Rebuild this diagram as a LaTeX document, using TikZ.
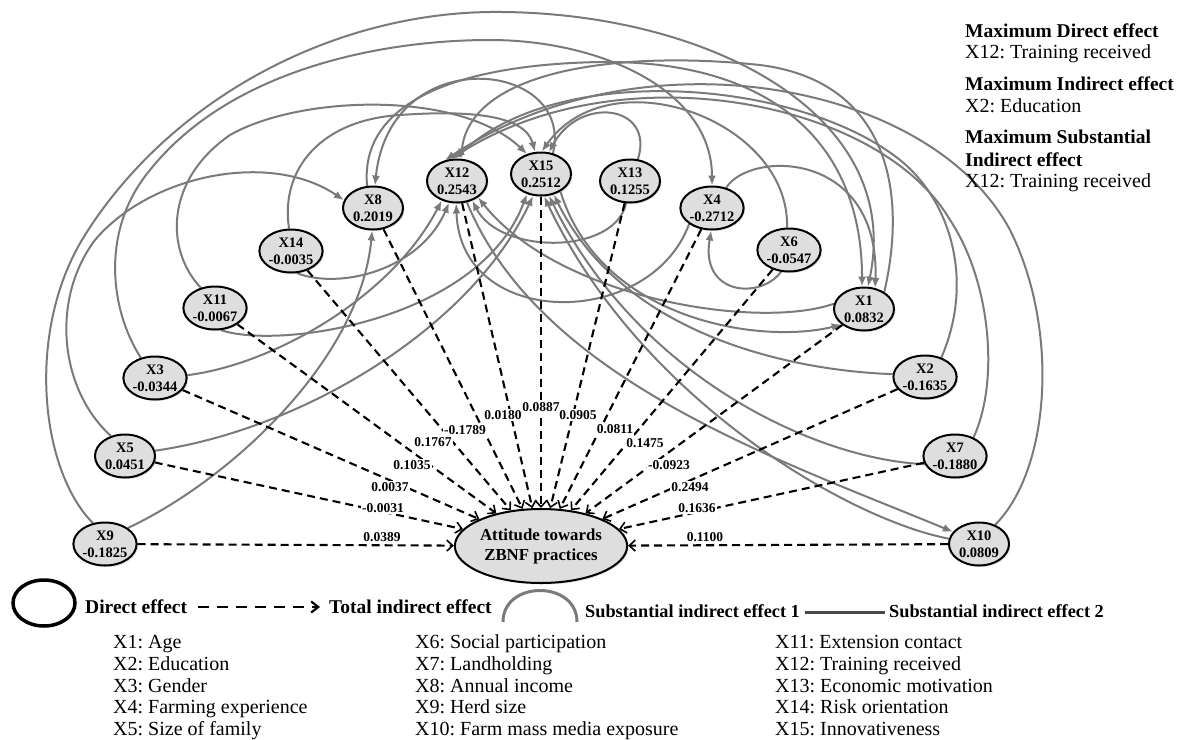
\documentclass[tikz,border=0pt]{standalone}
\usepackage{fontspec}
\setmainfont{Liberation Serif}
\usetikzlibrary{arrows.meta,shapes.geometric,backgrounds,shadows}
\definecolor{arcgray}{RGB}{122,122,122}
\definecolor{nodefill}{RGB}{222,222,222}
\frenchspacing
\begin{document}
\begin{tikzpicture}[x=1pt,y=-1pt,
  var/.style={ellipse, draw=black, line width=2pt, fill=nodefill, minimum width=60pt, minimum height=43pt, inner sep=0pt, align=center, font=\fontsize{14.5}{17}\selectfont\bfseries, drop shadow={opacity=0.25, shadow xshift=1.5pt, shadow yshift=-1.5pt}},
  att/.style={ellipse, draw=black, line width=2pt, fill=nodefill, minimum width=138pt, minimum height=74pt, inner sep=0pt, align=center, font=\fontsize{16.8}{20}\selectfont\bfseries, drop shadow={opacity=0.25, shadow xshift=1.5pt, shadow yshift=-1.5pt}},
  dasharrow/.style={draw=black, line width=2.1pt, dash pattern=on 8pt off 5pt, -{Straight Barb[length=6pt,width=11pt,line width=1.6pt]}},
  sie/.style={draw=arcgray, line width=2pt, -{Latex[length=10pt,width=8pt]}},
  lab/.style={fill=white, inner sep=1pt, font=\fontsize{13.5}{15}\selectfont\bfseries},
  legtxt/.style={anchor=base west, inner sep=0pt, font=\fontsize{20}{22}\selectfont},
  legbold/.style={anchor=base west, inner sep=0pt, font=\fontsize{19.5}{22}\selectfont\bfseries},
  legbolds/.style={anchor=base west, inner sep=0pt, font=\fontsize{18.3}{22}\selectfont\bfseries},
]
\useasboundingbox (0,0) rectangle (1183,739);

% variable nodes
\node[var] (X8)  at (373,208) {X8\\0.2019};
\node[var] (X12) at (457,181) {X12\\0.2543};
\node[var] (X15) at (541,174) {X15\\0.2512};
\node[var] (X13) at (630,181) {X13\\0.1255};
\node[var] (X4)  at (712,208) {X4\\-0.2712};
\node[var] (X14) at (291,251) {X14\\-0.0035};
\node[var] (X6)  at (789,250) {X6\\-0.0547};
\node[var] (X11) at (215,308) {X11\\-0.0067};
\node[var] (X1)  at (864,309) {X1\\0.0832};
\node[var] (X3)  at (155,378) {X3\\-0.0344};
\node[var] (X2)  at (925,377) {X2\\-0.1635};
\node[var] (X5)  at (125,456) {X5\\0.0451};
\node[var] (X7)  at (955,456) {X7\\-0.1880};
\node[var] (X9)  at (105,544) {X9\\-0.1825};
\node[var] (X10) at (979,544) {X10\\0.0809};
\node[att] (Att) at (541,546) {Attitude towards\\ZBNF practices};

\begin{pgfonlayer}{background}
% substantial indirect effects
\draw[sie] (X9.120) .. controls (40,470) and (25,330) .. (85,235) .. controls (170,100) and (330,14) .. (490,12) .. controls (700,10) and (905,110) .. (X1.80);
\draw[sie] (X9.35) .. controls (230,480) and (360,360) .. (X8.268);
\draw[sie] (X5.125) .. controls (60,390) and (50,300) .. (95,240) .. controls (150,175) and (270,150) .. (X8.165);
\draw[sie] (X5.10) .. controls (300,430) and (470,330) .. (X15.250);
\draw[sie] (X3.125) .. controls (110,310) and (100,230) .. (150,170) .. controls (230,70) and (380,40) .. (490,40) .. controls (600,40) and (712,90) .. (X4.90);
\draw[sie] (X3.5) .. controls (270,365) and (390,300) .. (X12.232);
\draw[sie] (X11.125) .. controls (165,250) and (165,180) .. (230,135) .. controls (300,95) and (460,90) .. (X15.125);
\draw[sie] (X11.285) .. controls (280,350) and (480,320) .. (X15.235);
\draw[sie] (X14.95) .. controls (280,170) and (320,120) .. (400,115) .. controls (470,110) and (525,115) .. (X15.105);
\draw[sie] (X14.285) .. controls (340,290) and (420,270) .. (X12.250);
\draw[sie] (X8.105) .. controls (360,110) and (440,65) .. (600,62) .. controls (780,60) and (862,150) .. (X1.95);
\draw[sie] (X15.60) .. controls (575,60) and (390,40) .. (X8.85);
\draw[sie] (X15.318) .. controls (600,320) and (760,345) .. (X1.215);
\draw[sie] (X12.295) .. controls (540,380) and (780,460) .. (X10.155);
\draw[sie] (X13.70) .. controls (655,105) and (580,95) .. (X15.70);
\draw[sie] (X13.260) .. controls (615,255) and (500,255) .. (X12.308);
\draw[sie] (X4.55) .. controls (750,150) and (880,150) .. (X1.62);
\draw[sie] (X4.215) .. controls (650,330) and (460,330) .. (X12.268);
\draw[sie] (X6.95) .. controls (790,120) and (610,55) .. (X15.88);
\draw[sie] (X6.250) .. controls (760,300) and (700,295) .. (X4.268);
\draw[sie] (X1.40) .. controls (910,180) and (880,80) .. (760,65) .. controls (620,50) and (470,70) .. (X12.80);
\draw[sie] (X1.170) .. controls (760,330) and (560,300) .. (X12.322);
\draw[sie] (X2.50) .. controls (975,280) and (950,200) .. (900,160) .. controls (800,80) and (560,60) .. (X12.95);
\draw[sie] (X2.175) .. controls (780,370) and (620,330) .. (X15.302);
\draw[sie] (X7.45) .. controls (1000,380) and (990,280) .. (950,220) .. controls (880,100) and (620,50) .. (X12.105);
\draw[sie] (X7.195) .. controls (820,460) and (640,380) .. (X15.290);
\draw[sie] (X10.50) .. controls (1050,470) and (1060,330) .. (1010,230) .. controls (930,80) and (640,30) .. (X12.120);
\draw[sie] (X10.170) .. controls (850,520) and (640,400) .. (X15.278);
% total indirect effects
\foreach \n in {X9,X5,X3,X11,X14,X8,X12,X15,X13,X4,X6,X1,X2,X7,X10}
  \draw[dasharrow] (\n) -- (Att);
\end{pgfonlayer}

% effect labels
\node[lab] (l9)  at (382,537) {0.0389};
\node[lab] (l5)  at (383,508) {-0.0031};
\node[lab] (l3)  at (390,487) {0.0037};
\node[lab] (l11) at (412,465) {0.1035};
\node[lab] (l14) at (433,442) {0.1767};
\node[lab] (l8)  at (465,430) {-0.1789};
\node[lab] (l12) at (503,415) {0.0180};
\node[lab] (l15) at (541,407) {0.0887};
\node[lab] (l13) at (578,415) {0.0905};
\node[lab] (l4)  at (615,429) {0.0811};
\node[lab] (l6)  at (645,443) {0.1475};
\node[lab] (l1)  at (669,465) {-0.0923};
\node[lab] (l2)  at (690,487) {0.2494};
\node[lab] (l7)  at (697,508) {0.1636};
\node[lab] (l10) at (705,537) {0.1100};

% top-right notes
\node[legbold] (m1)  at (965,37)  {Maximum Direct effect};
\node[legtxt]  (m1v) at (965,58)  {X12: Training received};
\node[legbold] (m2)  at (965,90)  {Maximum Indirect effect};
\node[legtxt]  (m2v) at (965,112) {X2: Education};
\node[legbold] (m3)  at (965,143) {Maximum Substantial};
\node[legbold] (m3b) at (965,166) {Indirect effect};
\node[legtxt]  (m3v) at (965,187) {X12: Training received};

% legend keys
\node[draw=black, line width=3.5pt, ellipse, minimum width=62pt, minimum height=46pt, inner sep=0pt] (legE) at (44,603) {};
\node[legbold] (legD) at (85,613) {Direct effect};
\coordinate (ta) at (198,607);
\coordinate (tb) at (320,607);
\draw[line width=2.2pt, dash pattern=on 11pt off 8pt, -{Straight Barb[length=7pt,width=11pt,line width=2.2pt]}] (ta) -- (tb);
\node[legbold] (legT) at (329,613) {Total indirect effect};
\coordinate (aa) at (503,622);
\coordinate (ab) at (577,622);
\draw[arcgray, line width=3pt] (aa) .. controls (503,580) and (577,580) .. (ab);
\node[legbolds] (legS1) at (585,617) {Substantial indirect effect 1};
\coordinate (la) at (805,612);
\coordinate (lb) at (885,612);
\draw[draw=arcgray!60!black, line width=3pt] (la) -- (lb);
\node[legbolds] (legS2) at (889,617) {Substantial indirect effect 2};

% legend list
\node[legtxt] (k1)  at (113,648)   {X1: Age};
\node[legtxt] (k2)  at (113,670)   {X2: Education};
\node[legtxt] (k3)  at (113,692)   {X3: Gender};
\node[legtxt] (k4)  at (113,713.5) {X4: Farming experience};
\node[legtxt] (k5)  at (113,735)   {X5: Size of family};
\node[legtxt] (k6)  at (415,648)   {X6: Social participation};
\node[legtxt] (k7)  at (415,670)   {X7: Landholding};
\node[legtxt] (k8)  at (415,692)   {X8: Annual income};
\node[legtxt] (k9)  at (415,713.5) {X9: Herd size};
\node[legtxt] (k10) at (415,735)   {X10: Farm mass media exposure};
\node[legtxt] (k11) at (775,648)   {X11: Extension contact};
\node[legtxt] (k12) at (775,670)   {X12: Training received};
\node[legtxt] (k13) at (775,692)   {X13: Economic motivation};
\node[legtxt] (k14) at (775,713.5) {X14: Risk orientation};
\node[legtxt] (k15) at (775,735)   {X15: Innovativeness};
\end{tikzpicture}
\end{document}
